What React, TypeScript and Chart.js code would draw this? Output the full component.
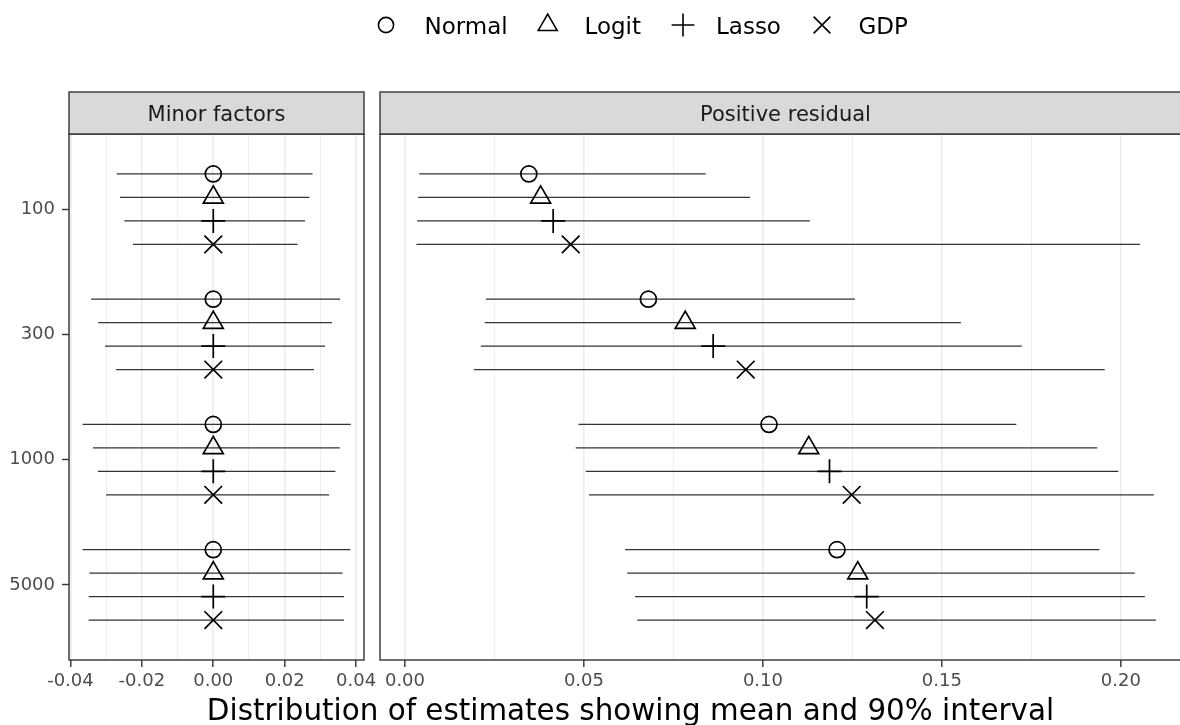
import React, { useEffect, useRef } from 'react';
import { Chart, registerables } from 'chart.js';

Chart.register(...registerables);

const FONT = "'DejaVu Sans', sans-serif";

// ---------- data ----------
const categories = ['100', '300', '1000', '5000'];
const seriesNames = ['Normal', 'Logit', 'Lasso', 'GDP'];
const markerStyles = ['circle', 'triangle', 'cross', 'crossRot'];
const dodgeOffsets = [-0.28125, -0.09375, 0.09375, 0.28125];

// "Minor factors" panel: rows = series (Normal, Logit, Lasso, GDP), cols = categories
const minorMean = [
  [0.0, 0.0, 0.0, 0.0],
  [0.0, 0.0, 0.0, 0.0],
  [0.0, 0.0, 0.0, 0.0],
  [0.0, 0.0, 0.0, 0.0],
];
const minorLower = [
  [-0.027, -0.0342, -0.0366, -0.0366],
  [-0.0261, -0.0322, -0.0337, -0.0347],
  [-0.0249, -0.0303, -0.0323, -0.0349],
  [-0.0225, -0.0272, -0.03, -0.0349],
];
const minorUpper = [
  [0.0278, 0.0355, 0.0385, 0.0384],
  [0.0269, 0.0332, 0.0354, 0.0362],
  [0.0257, 0.0313, 0.0342, 0.0366],
  [0.0236, 0.0282, 0.0324, 0.0366],
];

// "Positive residual" panel
const residualMean = [
  [0.0346, 0.068, 0.1017, 0.1207],
  [0.0379, 0.0783, 0.1128, 0.1265],
  [0.0414, 0.0861, 0.1186, 0.129],
  [0.0463, 0.0952, 0.1248, 0.1313],
];
const residualLower = [
  [0.004, 0.0226, 0.0485, 0.0615],
  [0.0037, 0.0223, 0.0477, 0.0621],
  [0.0034, 0.0212, 0.0505, 0.0643],
  [0.0032, 0.0193, 0.0514, 0.0649],
];
const residualUpper = [
  [0.084, 0.1257, 0.1708, 0.194],
  [0.0964, 0.1553, 0.1934, 0.2039],
  [0.1131, 0.1723, 0.1993, 0.2067],
  [0.2053, 0.1955, 0.2092, 0.2098],
];

const minorMajorTicks = [-0.04, -0.02, 0, 0.02, 0.04];
const minorMinorTicks = [-0.03, -0.01, 0.01, 0.03];
const residualMajorTicks = [0, 0.05, 0.1, 0.15, 0.2];
const residualMinorTicks = [0.025, 0.075, 0.125, 0.175];

const xTitle = 'Distribution of estimates showing mean and 90% interval';

// ---------- styling ----------
const markerRadii = [8, 11.5, 12, 12.5];

function drawMarker(ctx: CanvasRenderingContext2D, style: string, x: number, y: number, r: number) {
  ctx.beginPath();
  if (style === 'circle') {
    ctx.arc(x, y, r, 0, Math.PI * 2);
  } else if (style === 'triangle') {
    for (let k = 0; k < 3; k++) {
      const a = (k * 2 * Math.PI) / 3;
      const px = x + Math.sin(a) * r;
      const py = y - Math.cos(a) * r;
      if (k === 0) ctx.moveTo(px, py);
      else ctx.lineTo(px, py);
    }
    ctx.closePath();
  } else if (style === 'cross') {
    ctx.moveTo(x, y - r);
    ctx.lineTo(x, y + r);
    ctx.moveTo(x - r, y);
    ctx.lineTo(x + r, y);
  } else {
    const d = r * Math.SQRT1_2;
    ctx.moveTo(x - d, y - d);
    ctx.lineTo(x + d, y + d);
    ctx.moveTo(x - d, y + d);
    ctx.lineTo(x + d, y - d);
  }
  ctx.stroke();
}

const facetPlugin = {
  id: 'facet',
  afterDraw(chart: any, _args: any, opts: any) {
    const { ctx, chartArea: a } = chart;
    ctx.save();
    ctx.strokeStyle = '#333333';
    ctx.lineWidth = 1.4;
    ctx.strokeRect(a.left, a.top, a.right - a.left, a.bottom - a.top);
    const stripH = 42;
    const stripTop = a.top - stripH;
    ctx.fillStyle = '#D9D9D9';
    ctx.fillRect(a.left, stripTop, a.right - a.left, stripH);
    ctx.strokeRect(a.left, stripTop, a.right - a.left, stripH);
    ctx.fillStyle = '#1A1A1A';
    ctx.font = `21px ${FONT}`;
    ctx.textAlign = 'center';
    ctx.textBaseline = 'alphabetic';
    ctx.fillText(opts.label, (a.left + a.right) / 2, stripTop + 28.8);

    if (opts.legend) {
      const markerX = [386, 547.7, 683, 822];
      const textX = [424.5, 584.5, 716, 858.5];
      ctx.strokeStyle = '#000000';
      ctx.lineWidth = 1.6;
      ctx.font = `23px ${FONT}`;
      ctx.textAlign = 'left';
      ctx.fillStyle = '#000000';
      seriesNames.forEach((name, s) => {
        drawMarker(ctx, markerStyles[s], markerX[s], 25, markerRadii[s] * 0.95);
        ctx.fillText(name, textX[s], 33.5);
      });
      ctx.font = `29.4px ${FONT}`;
      ctx.textAlign = 'center';
      ctx.fillText(xTitle, 630.5, 720);
    }
    ctx.restore();
  },
};

function makeConfig(p: {
  mean: number[][];
  lower: number[][];
  upper: number[][];
  majorTicks: number[];
  minorTicks: number[];
  xMin: number;
  xMax: number;
  showY: boolean;
  label: string;
  legend: boolean;
  padding: { left: number; right: number; top: number; bottom: number };
}) {
  const isMajor = (v: number) => p.majorTicks.some((t) => Math.abs(t - v) < 1e-9);
  const datasets: any[] = [];
  seriesNames.forEach((name, s) => {
    const barData: any[] = [];
    categories.forEach((_, i) => {
      const y = i + 1 + dodgeOffsets[s];
      barData.push({ x: p.lower[s][i], y }, { x: p.upper[s][i], y }, { x: p.upper[s][i], y: null });
    });
    datasets.push({
      type: 'line',
      label: name + ' interval',
      data: barData,
      borderColor: '#333333',
      borderWidth: 1.3,
      pointRadius: 0,
      spanGaps: false,
      fill: false,
      tension: 0,
      order: 2,
    });
    datasets.push({
      type: 'line',
      label: name,
      data: categories.map((_, i) => ({ x: p.mean[s][i], y: i + 1 + dodgeOffsets[s] })),
      showLine: false,
      pointStyle: markerStyles[s],
      pointRadius: markerRadii[s],
      pointBorderWidth: 1.7,
      pointBorderColor: '#000000',
      pointBackgroundColor: 'rgba(0,0,0,0)',
      order: 1,
    });
  });

  return {
    type: 'line',
    data: { datasets },
    plugins: [facetPlugin],
    options: {
      animation: false,
      responsive: false,
      devicePixelRatio: 1,
      events: [],
      layout: { padding: p.padding },
      plugins: {
        legend: { display: false },
        tooltip: { enabled: false },
        facet: { label: p.label, legend: p.legend },
      },
      scales: {
        x: {
          type: 'linear',
          min: p.xMin,
          max: p.xMax,
          afterBuildTicks: (axis: any) => {
            axis.ticks = [...p.majorTicks, ...p.minorTicks].sort((a, b) => a - b).map((v) => ({ value: v }));
          },
          ticks: {
            autoSkip: false,
            maxRotation: 0,
            padding: 4,
            color: '#4D4D4D',
            font: { size: 18, family: FONT },
            callback: (v: any) => (isMajor(Number(v)) ? Number(v).toFixed(2) : ''),
          },
          grid: {
            color: '#EBEBEB',
            lineWidth: (c: any) => (c.tick && isMajor(c.tick.value) ? 1.6 : 0.8),
            tickColor: (c: any) => (c.tick && isMajor(c.tick.value) ? '#333333' : 'rgba(0,0,0,0)'),
            tickWidth: 1.4,
            tickLength: 7,
            drawTicks: true,
          },
          border: { display: false },
          afterFit: (axis: any) => {
            axis.height = 65;
            axis.paddingLeft = 0;
            axis.paddingRight = 0;
          },
        },
        y: {
          type: 'linear',
          min: 0.4,
          max: 4.6,
          reverse: true,
          display: p.showY,
          afterBuildTicks: (axis: any) => {
            axis.ticks = categories.map((_, i) => ({ value: i + 1 }));
          },
          ticks: {
            autoSkip: false,
            padding: 7,
            color: '#4D4D4D',
            font: { size: 18, family: FONT },
            callback: (v: any) => categories[Math.round(Number(v)) - 1] ?? '',
          },
          grid: {
            drawOnChartArea: false,
            drawTicks: true,
            tickLength: 7,
            tickColor: '#333333',
            tickWidth: 1.4,
          },
          border: { display: false },
          afterFit: (axis: any) => {
            axis.width = p.showY ? 69 : 0;
            axis.paddingTop = 0;
            axis.paddingBottom = 0;
          },
        },
      },
    },
  };
}

export default function App() {
  const leftRef = useRef<HTMLCanvasElement>(null);
  const rightRef = useRef<HTMLCanvasElement>(null);

  useEffect(() => {
    Chart.defaults.font.family = FONT;
    const left = new Chart(
      leftRef.current as HTMLCanvasElement,
      makeConfig({
        mean: minorMean,
        lower: minorLower,
        upper: minorUpper,
        majorTicks: minorMajorTicks,
        minorTicks: minorMinorTicks,
        xMin: -0.0404,
        xMax: 0.0422,
        showY: true,
        label: 'Minor factors',
        legend: true,
        padding: { left: 0, right: 816, top: 134, bottom: 0 },
      }) as any
    );
    const right = new Chart(
      rightRef.current as HTMLCanvasElement,
      makeConfig({
        mean: residualMean,
        lower: residualLower,
        upper: residualUpper,
        majorTicks: residualMajorTicks,
        minorTicks: residualMinorTicks,
        xMin: -0.00698,
        xMax: 0.2196,
        showY: false,
        label: 'Positive residual',
        legend: false,
        padding: { left: 20, right: 20, top: 134, bottom: 0 },
      }) as any
    );
    return () => {
      left.destroy();
      right.destroy();
    };
  }, []);

  return (
    <div
      style={{
        position: 'absolute',
        left: 0,
        top: 0,
        width: 1180,
        height: 725,
        overflow: 'hidden',
        background: '#ffffff',
      }}
    >
      <canvas ref={leftRef} width={1180} height={725} style={{ position: 'absolute', left: 0, top: 0 }} />
      <canvas ref={rightRef} width={851} height={725} style={{ position: 'absolute', left: 360, top: 0 }} />
    </div>
  );
}
